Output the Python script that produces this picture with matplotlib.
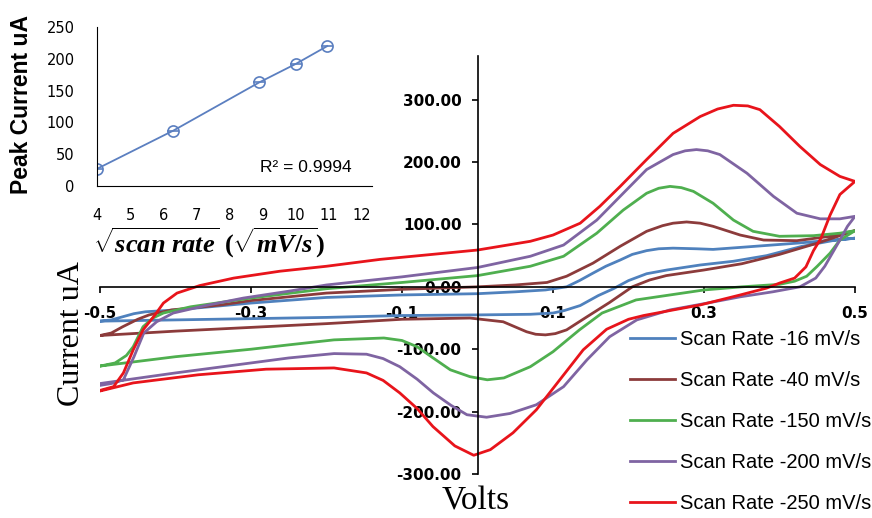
import matplotlib
matplotlib.use("Agg")
import matplotlib.pyplot as plt

# ---- cyclic voltammograms (forward sweep then reverse sweep) ----
volts_16 = [-0.5, -0.485, -0.47, -0.455, -0.44, -0.4, -0.3, -0.2, -0.1, 0.0, 0.05, 0.09, 0.118, 0.135,
            0.153, 0.17, 0.189, 0.205, 0.224, 0.24, 0.259, 0.29, 0.312, 0.357, 0.423, 0.5,
            0.47, 0.43, 0.383, 0.339, 0.295, 0.251, 0.224, 0.2, 0.18, 0.16, 0.136, 0.115, 0.1, 0.07, 0.0,
            -0.1, -0.2, -0.3, -0.4, -0.5]
current_16 = [-55, -53, -48, -43, -40, -37, -26, -17, -13, -11, -8, -5, 0, 10,
              22, 33, 43, 52, 58, 61, 62, 61, 60, 64, 70, 78,
              74, 65, 50, 41, 35, 27, 21, 10, -3, -14, -30, -38, -42, -44, -45,
              -46, -49, -51, -53, -55]

volts_40 = [-0.5, -0.485, -0.47, -0.45, -0.435, -0.405, -0.34, -0.3, -0.2, -0.1, 0.0, 0.05, 0.092, 0.118,
            0.153, 0.189, 0.224, 0.245, 0.259, 0.277, 0.295, 0.312, 0.33, 0.348, 0.379, 0.423, 0.467, 0.5,
            0.45, 0.4, 0.35, 0.3, 0.25, 0.228, 0.205, 0.175, 0.145, 0.118, 0.103, 0.09, 0.077, 0.065, 0.034,
            -0.01, -0.1, -0.2, -0.3, -0.4, -0.5]
current_40 = [-78, -74, -64, -52, -45, -37, -29, -22, -10, -4, 0, 3, 7, 17,
              38, 65, 89, 98, 102, 104, 102, 97, 90, 83, 75, 74, 81, 90,
              70, 52, 37, 27, 18, 11, 0, -25, -48, -69, -75, -77, -76, -72, -56,
              -50, -52, -59, -65, -71, -78]

volts_150 = [-0.5, -0.48, -0.465, -0.456, -0.443, -0.43, -0.416, -0.38, -0.323, -0.3, -0.2, -0.1, 0.0,
             0.07, 0.114, 0.158, 0.193, 0.224, 0.24, 0.255, 0.27, 0.286, 0.312, 0.339, 0.365, 0.4, 0.445,
             0.48, 0.5,
             0.48, 0.467, 0.45, 0.436, 0.42, 0.4, 0.35, 0.3, 0.255, 0.21, 0.165, 0.135, 0.1, 0.07, 0.035,
             0.013, -0.01, -0.036, -0.06, -0.08, -0.1, -0.124, -0.19, -0.25, -0.3, -0.4, -0.5]
current_150 = [-127, -122, -110, -96, -64, -50, -42, -32, -22, -18, -3, 7, 18,
               33, 49, 86, 123, 150, 158, 161, 159, 153, 134, 107, 89, 81, 82,
               86, 90,
               75, 54, 33, 17, 9, 4, 0, -5, -13, -21, -42, -69, -104, -128, -146,
               -149, -144, -133, -113, -96, -86, -82, -85, -93, -100, -112, -127]

volts_200 = [-0.5, -0.485, -0.469, -0.455, -0.442, -0.425, -0.403, -0.36, -0.31, -0.25, -0.2, -0.1, 0.0,
             0.07, 0.114, 0.158, 0.193, 0.224, 0.259, 0.275, 0.29, 0.305, 0.321, 0.357, 0.392, 0.423, 0.454,
             0.48, 0.5,
             0.49, 0.48, 0.47, 0.46, 0.448, 0.427, 0.391, 0.348, 0.3, 0.255, 0.211, 0.175, 0.145, 0.114,
             0.078, 0.043, 0.012, -0.014, -0.035, -0.0585, -0.08, -0.103, -0.125, -0.147, -0.19, -0.25,
             -0.3, -0.4, -0.5]
current_200 = [-158, -155, -149, -112, -74, -56, -42, -30, -18, -7, 3, 16, 31,
               49, 67, 107, 150, 188, 212, 218, 220, 218, 212, 182, 145, 118, 109,
               109, 113,
               97, 75, 54, 33, 14, 0, -8, -16, -27, -37, -53, -80, -117, -160,
               -189, -203, -209, -205, -190, -170, -148, -128, -115, -108, -107, -114,
               -122, -138, -155]

volts_250 = [-0.5, -0.482, -0.469, -0.456, -0.443, -0.429, -0.416, -0.398, -0.368, -0.323, -0.262, -0.2,
             -0.129, -0.06, 0.0, 0.07, 0.1, 0.136, 0.162, 0.189, 0.224, 0.259, 0.295, 0.318, 0.339, 0.358,
             0.374, 0.4, 0.427, 0.454, 0.48, 0.5,
             0.48, 0.467, 0.455, 0.445, 0.435, 0.42, 0.4, 0.383, 0.348, 0.295, 0.255, 0.22, 0.2, 0.171,
             0.14, 0.109, 0.078, 0.047, 0.017, -0.005, -0.03, -0.059, -0.08, -0.103, -0.125, -0.147,
             -0.19, -0.28, -0.37, -0.456, -0.5]
current_250 = [-166, -160, -138, -101, -69, -48, -26, -10, 2, 14, 25, 33,
               44, 52, 59, 73, 83, 102, 129, 161, 204, 246, 273, 285, 291, 290,
               284, 257, 225, 196, 177, 169,
               148, 115, 78, 58, 32, 14, 6, -2, -13, -29, -38, -46, -52, -68,
               -101, -149, -197, -234, -261, -270, -255, -224, -195, -170, -150, -138,
               -130, -132, -141, -154, -167]

labels = ["Scan Rate -16 mV/s", "Scan Rate -40 mV/s", "Scan Rate -150 mV/s",
          "Scan Rate -200 mV/s", "Scan Rate -250 mV/s"]
colors = ["#4F81BD", "#8C3B3B", "#4FAF4F", "#7F64A2", "#E8141B"]

# inset: peak current vs sqrt(scan rate)
sqrt_rate = [4, 6.3, 8.9, 10, 10.95]
peak_current = [27, 87, 163, 192, 220]

plt.rcParams['mathtext.fontset'] = 'custom'
plt.rcParams['mathtext.it'] = 'Liberation Serif:italic:bold'
plt.rcParams['mathtext.rm'] = 'Liberation Serif:bold'
plt.rcParams['mathtext.bf'] = 'Liberation Serif:bold'

fig = plt.figure(figsize=(8.72, 5.18), dpi=100)

# main chart
ax = fig.add_axes([100/872, 1-474/518, 755/872, 418/518])
ax.patch.set_alpha(0)
all_v = [volts_16, volts_40, volts_150, volts_200, volts_250]
all_i = [current_16, current_40, current_150, current_200, current_250]
for v, i, lab, c in zip(all_v, all_i, labels, colors):
    ax.plot(v, i, color=c, lw=2, label=lab, solid_joinstyle='round')

ax.set_xlim(-0.5, 0.5)
ax.set_ylim(-300, 370)
ax.spines['left'].set_position(('data', 0))
ax.spines['bottom'].set_position(('data', 0))
ax.spines['top'].set_visible(False)
ax.spines['right'].set_visible(False)
ax.spines['left'].set_linewidth(1.2)
ax.spines['bottom'].set_linewidth(1.2)

xt = [-0.5, -0.3, -0.1, 0.1, 0.3, 0.5]
ax.set_xticks(xt)
ax.set_xticklabels(["%.1f" % t for t in xt])
yt = [-300, -200, -100, 0, 100, 200, 300]
ax.set_yticks(yt)
ax.set_yticklabels(["%.2f" % t for t in yt])
ax.tick_params(axis='x', direction='out', length=4, width=1.2, pad=10, labelsize=11)
ax.tick_params(axis='y', direction='out', length=4.5, width=1.2, pad=7, labelsize=11)
for t in ax.get_xticklabels() + ax.get_yticklabels():
    t.set_fontweight('bold')

fig.text(71/872, 1-334/518, "Current uA", rotation=90, family='Liberation Serif',
         size=23, ha='center', va='center')
fig.text(476/872, 1-501/518, "Volts", family='Liberation Serif', size=24,
         ha='center', va='center')

ax.legend(loc='upper left', bbox_to_anchor=(630/872, 1-330/518), bbox_transform=fig.transFigure,
          frameon=False, prop={'family': 'Liberation Sans', 'size': 14.5},
          handlelength=2.25, handletextpad=0.25, labelspacing=1.09, borderpad=0, borderaxespad=0)

# inset chart
ins = fig.add_axes([97/872, 1-186/518, 275/872, 159/518])
ins.patch.set_alpha(0)
c_ins = "#5B7FC0"
ins.plot(sqrt_rate, peak_current, color=c_ins, lw=1.3, marker='o', mfc='none', ms=8, mew=1.2)
ins.plot(sqrt_rate, peak_current, ls='none', marker='_', ms=8, mew=1.2, color=c_ins)
ins.set_xlim(4, 12.3)
ins.set_ylim(0, 250)
ins.set_xticks(range(4, 13))
ins.set_yticks(range(0, 251, 50))
ins.spines['top'].set_visible(False)
ins.spines['right'].set_visible(False)
ins.tick_params(length=0, labelsize=10.5, pad=16)
ins.tick_params(axis='y', pad=16)

fig.text(22/872, 1-105/518, "Peak Current uA", rotation=90, weight='bold',
         family='Liberation Sans', size=16.5, ha='center', va='center')
fig.text(209/872, 1-243/518, r'$\sqrt{scan\ rate}\ (\sqrt{mV/s})$', size=19,
         ha='center', va='center')
fig.text(352/872, 1-168/518, "R² = 0.9994", ha='right', va='center',
         family='Liberation Sans', size=12.5)

fig.savefig("out.png", dpi=100)
